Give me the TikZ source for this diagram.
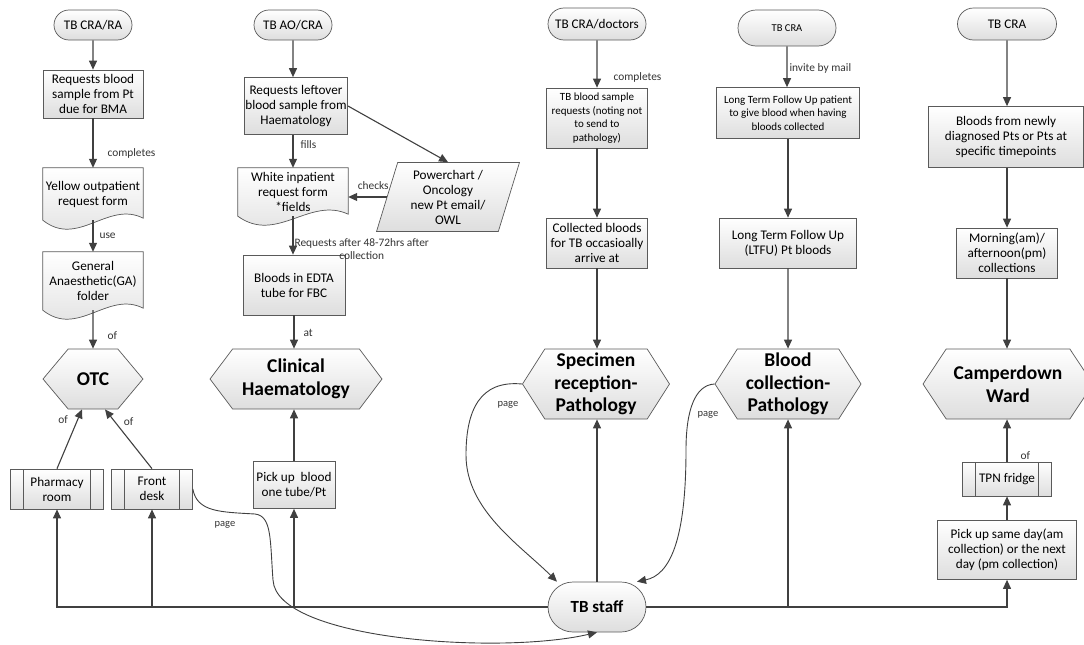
\documentclass[tikz,border=0pt]{standalone}
\usepackage{fontspec}
\setmainfont{Carlito}
\usetikzlibrary{shapes.geometric}
\usetikzlibrary{shapes.misc}
\usetikzlibrary{shapes.symbols}
\usetikzlibrary{arrows.meta}
\usetikzlibrary{calc}
\usetikzlibrary{backgrounds}

\definecolor{linec}{HTML}{404040}
\definecolor{boxline}{HTML}{5A5A5A}

\tikzset{
  wh/.style 2 args={minimum width=#1pt, minimum height=#2pt},
  base/.style={draw=boxline, line width=0.7pt, top color=white, bottom color=black!13,
    align=center, inner sep=1pt, font=\fontsize{13.2}{15}\selectfont},
  small/.style={font=\fontsize{11}{13.5}\selectfont},
  tiny/.style={font=\fontsize{10.5}{12}\selectfont},
  big/.style={font=\bfseries\fontsize{19.5}{22.5}\selectfont},
  term/.style={base, rounded rectangle},
  proc/.style={base, rectangle},
  docnode/.style={align=center, inner sep=1pt, font=\fontsize{13.2}{15}\selectfont},
  hex/.style={base, big, signal, signal to=west and east, signal pointer angle=#1},
  hex/.default=100,
  data/.style={base, trapezium, trapezium left angle=74, trapezium right angle=106,
    trapezium stretches=true},
  subproc/.style={proc, path picture={
    \draw[boxline, line width=0.7pt]
      ([xshift=13pt]path picture bounding box.north west) -- ([xshift=13pt]path picture bounding box.south west)
      ([xshift=-13pt]path picture bounding box.north east) -- ([xshift=-13pt]path picture bounding box.south east);}},
  flow/.style={draw=linec, line width=1.1pt, -{Triangle[length=9pt,width=8pt]}},
  pageflow/.style={flow, line width=0.9pt},
  lbl/.style={inner sep=1pt, text=black!80, font=\fontsize{11.4}{12.5}\selectfont},
  pagelbl/.style={inner sep=1pt, text=black!80, font=\fontsize{10.5}{11}\selectfont}
}

\newcommand\docshape[1]{%
  \path[draw=boxline, line width=0.7pt, top color=white, bottom color=black!13]
    (#1.north west) -- (#1.north east) -- ([yshift=2pt]#1.south east)
    .. controls ($(#1.south east)!0.35!(#1.south west)+(0,20pt)$)
    and ($(#1.south west)!0.35!(#1.south east)+(0,-28pt)$) .. (#1.south west) -- cycle;}

\begin{document}
\begin{tikzpicture}[x=1pt, y=-1pt]
\useasboundingbox (0,0) rectangle (1084,645);

\node[term, wh={80}{30}] (ter1) at (93,25) {TB CRA/RA};
\node[proc, wh={100}{48}] (req1) at (93,94) {Requests blood\\sample from Pt\\due for BMA};
\node[docnode, wh={100}{52}] (yel) at (93,194) {Yellow outpatient\\request form};
\node[docnode, wh={100}{58}] (ga) at (93,281) {General\\Anaesthetic(GA)\\folder};
\node[hex, wh={100}{60}] (otc) at (93,379) {OTC};
\node[subproc, wh={93}{40}] (pharm) at (57,489) {Pharmacy\\room};
\node[subproc, wh={81}{40}] (fdesk) at (152,489) {Front\\desk};

\node[term, wh={80}{30}] (ter2) at (293,25) {TB AO/CRA};
\node[proc, wh={103}{57}] (req2) at (296,106) {Requests leftover\\blood sample from\\Haematology};
\node[docnode, wh={110}{48}] (white) at (293,192) {White inpatient\\request form\\*fields};
\node[data, wh={143}{69}] (power) at (448,197) {Powerchart /\\Oncology\\new Pt email/\\OWL};
\node[proc, wh={102}{60}] (edta) at (294,285) {Bloods in EDTA\\tube for FBC};
\node[hex=106, wh={172}{60}] (clin) at (296,379) {Clinical\\Haematology};
\node[proc, wh={82}{47}] (pick1) at (294,485) {Pick up~ blood\\one tube/Pt};

\node[term, wh={100}{32}] (ter3) at (597,24) {TB CRA/doctors};
\node[proc, small, wh={101}{60}] (tbreq) at (597,118) {TB blood sample\\requests (noting not\\to send to\\pathology)};
\node[proc, wh={101}{50}] (coll) at (597,243) {Collected bloods\\for TB occasioally\\arrive at};
\node[hex=115, wh={147}{70}] (spec) at (596,384) {Specimen\\reception-\\Pathology};
\node[term, wh={100}{50}, font=\bfseries\fontsize{17}{20}\selectfont] (tbs) at (597,607) {TB staff};

\node[term, tiny, wh={100}{36}] (ter4) at (787,28) {TB CRA};
\node[proc, small, wh={143}{51}] (ltreq) at (788,113) {Long Term Follow Up patient\\to give blood when having\\bloods collected};
\node[proc, wh={137}{50}] (ltfu) at (788,243) {Long Term Follow Up\\(LTFU) Pt bloods};
\node[hex=115, wh={146}{70}] (bcp) at (788,384) {Blood\\collection-\\Pathology};

\node[term, wh={101}{32}] (ter5) at (1007,24) {TB CRA};
\node[proc, wh={155}{61}] (newly) at (1006,137) {Bloods from newly\\diagnosed Pts or Pts at\\specific timepoints};
\node[proc, wh={101}{50}] (morn) at (1007,253) {Morning(am)/\\afternoon(pm)\\collections};
\node[hex=113, wh={170}{70}] (camp) at (1008,384) {Camperdown\\Ward};
\node[subproc, wh={89}{34}] (tpn) at (1007,479) {TPN fridge};
\node[proc, wh={139}{59}] (pick5) at (1007,550) {Pick up same day(am\\collection) or the next\\day (pm collection)};

\begin{scope}[on background layer]
\docshape{yel}
\docshape{ga}
\docshape{white}
\end{scope}

\draw[flow] (ter1) -- (req1);
\draw[flow] (req1) -- node[lbl, anchor=west, pos=0.7, xshift=13pt] {completes} (yel);
\draw[flow] (yel) -- node[lbl, anchor=west, pos=0.5, xshift=5pt] {use} (ga);
\draw[flow] (ga) -- node[lbl, anchor=west, pos=0.67, xshift=13pt] {of} (otc);
\draw[flow] (pharm.north) -- node[lbl, anchor=east, pos=0.82, xshift=-8pt] {of} ([xshift=-11pt]otc.south);
\draw[flow] (fdesk.north) -- node[lbl, anchor=west, pos=0.8, xshift=8pt] {of} ([xshift=12pt]otc.south);

\draw[flow] (ter2) -- (req2.north -| ter2);
\draw[flow] (req2.south -| white) -- node[lbl, anchor=west, pos=0.3, xshift=6pt] {fills} (white);
\draw[flow] (req2.east) -- (power.north);
\draw[flow] (power.west) -- node[lbl, anchor=south, pos=0.35, yshift=6pt] {checks} (power.west -| white.east);
\draw[flow] (white) -- node[lbl, anchor=north west, align=center, pos=0.55] {Requests after 48-72hrs after\\collection} (edta.north -| white);
\draw[flow] (edta) -- node[lbl, anchor=west, pos=0.53, xshift=8pt] {at} (clin.north -| edta);
\draw[flow] (pick1) -- (clin.south -| pick1);

\draw[flow] (ter3) -- node[lbl, anchor=west, pos=0.79, xshift=15pt] {completes} (tbreq);
\draw[flow] (tbreq) -- (coll);
\draw[flow] (coll) -- (spec.north -| coll);
\draw[flow] (tbs.north) -- (spec.south -| tbs);

\draw[flow] (ter4) -- node[lbl, anchor=west, pos=0.55, xshift=1pt] {invite by mail} (ltreq.north -| ter4);
\draw[flow] (ltreq) -- (ltfu);
\draw[flow] (ltfu) -- (bcp);

\draw[flow] (ter5) -- (newly.north -| ter5);
\draw[flow] (newly.south -| morn) -- (morn);
\draw[flow] (morn) -- (camp.north -| morn);
\draw[flow] (tpn) -- node[lbl, anchor=west, pos=0.14, xshift=12pt] {of} (camp.south -| tpn);
\draw[flow] (pick5) -- (tpn);

\draw[flow] (tbs.west) -| (pharm.south);
\draw[flow] (tbs.west) -| (fdesk.south);
\draw[flow] (tbs.west) -| (pick1.south);
\draw[flow] (tbs.east) -| (bcp.south);
\draw[flow] (tbs.east) -| (pick5.south);

\draw[pageflow] (fdesk.east) .. controls (197,512) and (220,512) .. (255,514)
  .. controls (272,516) and (270,540) .. (273,580)
  .. controls (276,640) and (500,655) .. (tbs.south);
\node[pagelbl] (pg1) at (225,525) {page};
\draw[pageflow] (spec.west) .. controls (480,380) and (466,410) .. (466,455)
  .. controls (466,510) and (520,545) .. ([xshift=-40pt]tbs.north);
\node[pagelbl] (pg2) at (508,405) {page};
\draw[pageflow] (bcp.west) .. controls (695,385) and (686,410) .. (686,450)
  .. controls (686,540) and (670,575) .. ([xshift=40pt]tbs.north);
\node[pagelbl] (pg3) at (708,415) {page};
\end{tikzpicture}
\end{document}
